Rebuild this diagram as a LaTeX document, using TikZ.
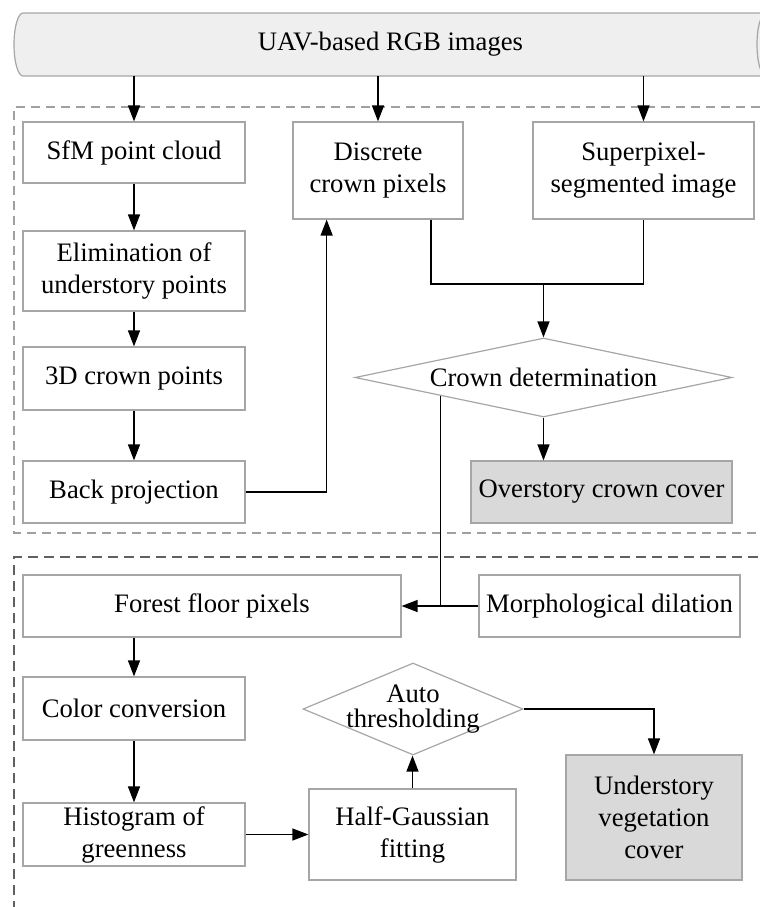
\documentclass[tikz,border=0pt]{standalone}
\usepackage{fontspec}
\setmainfont{Liberation Serif}
\usetikzlibrary{arrows.meta,shapes.geometric,calc}
\definecolor{bordergray}{HTML}{A6A6A6}
\definecolor{cylfill}{HTML}{EFEFEF}
\definecolor{outfill}{HTML}{D9D9D9}
\definecolor{dashlight}{HTML}{A0A0A0}
\definecolor{dashdark}{HTML}{606060}
\begin{document}
\begin{tikzpicture}[x=0.75pt,y=-0.75pt,
  txt/.style={font=\fontsize{20}{24}\selectfont, align=center, inner sep=0pt},
  box/.style={txt, draw=bordergray, line width=0.9pt},
  dia/.style={diamond, draw=bordergray, line width=0.9pt, inner sep=0pt},
  wh/.style 2 args={minimum width=#1*0.75pt, minimum height=#2*0.75pt},
  arr/.style={draw=black, line width=1pt, -{Triangle[length=12pt,width=9pt]}},
  conn/.style={draw=black, line width=1pt},
  cylstyle/.style={draw=bordergray, fill=cylfill, line width=0.9pt},
  dashup/.style={draw=dashlight, line width=1pt, dash pattern=on 6.75pt off 4.5pt},
  dashlow/.style={draw=dashdark, line width=1.2pt, dash pattern=on 7.5pt off 4.5pt}
]
\useasboundingbox (0,0) rectangle (760,907);
\clip (0,0) rectangle (760,907);

% dashed group frames
\draw[dashup] (790,107) -- (14,107) -- (14,533) -- (790,533);
\draw[dashlow] (790,557) -- (14,557) -- (14,930);

% top cylinder
\draw[cylstyle] (790,13) -- (23,13) arc[start angle=90, end angle=270, x radius=6.75pt, y radius=23.625pt] -- (790,76);
\draw[draw=bordergray, line width=0.9pt] (766,13) arc[start angle=90, end angle=270, x radius=6.75pt, y radius=23.625pt];
\node[txt, minimum height=63*0.75pt] (uav) at (390.5,44.5) {UAV-based RGB images};

% upper part
\node[box, wh={222}{61}] (sfm) at (134,152.5) {SfM point cloud};
\node[box, wh={222}{80}] (elim) at (134,271) {Elimination of\\understory points};
\node[box, wh={222}{63}] (c3d) at (134,378.5) {3D crown points};
\node[box, wh={222}{62}] (back) at (134,492) {Back projection};
\node[box, wh={170}{97}] (disc) at (378,170.5) {Discrete\\crown pixels};
\node[box, wh={221}{97}] (super) at (643.5,170.5) {Superpixel-\\segmented image};
\node[dia, wh={377}{79}] (cdet) at (543.5,377.5) {};
\node[txt] (cdett) at (cdet) {Crown determination};
\node[box, fill=outfill, wh={261}{62}] (over) at (601.5,492) {Overstory crown cover};

% lower part
\node[box, wh={378}{62}] (floor) at (212,606) {Forest floor pixels};
\node[box, wh={261}{62}] (morph) at (609.5,606) {Morphological dilation};
\node[box, wh={222}{63}] (color) at (134,708.5) {Color conversion};
\node[box, wh={222}{63}] (hist) at (134,834.5) {Histogram of\\greenness};
\node[box, wh={207}{91}] (half) at (412.5,834.5) {Half-Gaussian\\fitting};
\node[dia, wh={220}{92}] (auto) at (413,709) {};
\node[txt, font=\fontsize{20}{19}\selectfont] (autot) at (auto) {Auto\\thresholding};
\node[box, fill=outfill, wh={176}{125}] (under) at (654,817.5) {Understory\\vegetation\\cover};

% connectors
\draw[arr] (sfm.north |- uav.south) -- (sfm.north);
\draw[arr] (disc.north |- uav.south) -- (disc.north);
\draw[arr] (super.north |- uav.south) -- (super.north);
\draw[arr] (sfm.south) -- (elim.north);
\draw[arr] (elim.south) -- (c3d.north);
\draw[arr] (c3d.south) -- (back.north);
\draw[arr] (back.east) -| ($(disc.south west)!0.2!(disc.south east)$);
\coordinate (merge) at (cdet.north |- 0,284);
\draw[conn] ($(disc.south west)!0.81!(disc.south east)$) |- (merge) -| (super.south);
\draw[arr] (merge) -- (cdet.north);
\draw[arr] (cdet.south) -- (cdet.south |- over.north);
\coordinate (jn) at (cdet.190 |- floor.east);
\draw[conn] (cdet.190) -- (jn);
\draw[arr] (morph.west) -- (floor.east);
\draw[arr] (color.north |- floor.south) -- (color.north);
\draw[arr] (color.south) -- (hist.north);
\draw[arr] (hist.east) -- (half.west);
\draw[arr] (half.north) -- (half.north |- auto.south);
\draw[arr] (auto.east) -| (under.north);
\end{tikzpicture}
\end{document}
